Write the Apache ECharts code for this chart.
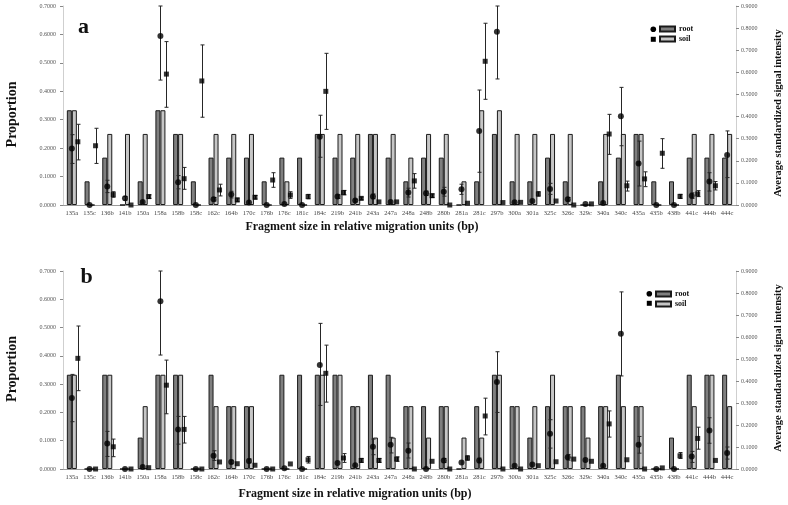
<!DOCTYPE html>
<html><head><meta charset="utf-8">
<script src="https://cdn.jsdelivr.net/npm/echarts@6/dist/echarts.min.js"></script>
<style>html,body{margin:0;padding:0;background:#fff}#c{width:788px;height:505px}</style>
</head><body><div id="c"></div>
<script>
const categories = ['135a','135c','136b','141b','150a','158a','158b','158c','162c','164b','170c','176b','176c','181c','184c','219b','241b','243a','247a','248a','248b','280b','281a','281c','297b','300a','301a','325c','326c','329c','340a','340c','435a','435b','438b','441c','444b','444c'];

// Panel a: proportions (left axis)
const aRootProp = [0.3333,0.0833,0.1667,0,0.0833,0.3333,0.25,0.0833,0.1667,0.1667,0.1667,0.0833,0.1667,0.1667,0.25,0.1667,0.1667,0.25,0.1667,0.0833,0.1667,0.1667,0,0.0833,0.25,0.0833,0.0833,0.1667,0.0833,0,0.0833,0.1667,0.25,0.0833,0.0833,0.1667,0.1667,0.1667];
const aSoilProp = [0.3333,0,0.25,0.25,0.25,0.3333,0.25,0,0.25,0.25,0.25,0,0.0833,0,0.25,0.25,0.25,0.25,0.25,0.1667,0.25,0.25,0.0833,0.3333,0.3333,0.25,0.25,0.25,0.25,0,0.25,0.25,0.25,0,0,0.25,0.25,0.25];
// Panel a: average standardized signal intensity (right axis)
const aRootInt = [0.255,0,0.084,0.030,0.014,0.764,0.103,0,0.026,0.047,0.011,0,0.005,0,0.309,0.038,0.020,0.039,0.014,0.056,0.053,0.060,0.071,0.335,0.784,0.012,0.018,0.072,0.026,0.005,0.009,0.401,0.188,0,0,0.042,0.106,0.226];
const aRootLo  = [0.188,null,0.056,0.022,null,0.565,0.073,null,0.018,0.032,null,null,null,null,0.216,0.030,0.014,0.028,null,0.036,0.043,0.040,0.048,0.148,0.570,null,null,0.048,0.018,null,null,0.268,0.086,null,null,0.030,0.063,0.124];
const aRootHi  = [0.318,null,0.112,0.038,null,0.900,0.133,null,0.034,0.062,null,null,null,null,0.406,0.046,0.026,0.050,null,0.076,0.063,0.080,0.094,0.520,0.900,null,null,0.098,0.034,null,null,0.532,0.289,null,null,0.055,0.146,0.335];
const aSoilInt = [0.286,0.268,0.047,0,0.038,0.592,0.119,0.561,0.068,0.023,0.035,0.113,0.045,0.038,0.514,0.056,0.030,0.014,0.014,0.109,0.042,0,0.008,0.650,0.011,0.012,0.050,0.018,0,0.005,0.321,0.087,0.118,0.234,0.039,0.050,0.087,null];
const aSoilLo  = [0.204,0.188,0.035,null,0.030,0.442,0.071,0.397,0.041,0.015,0.027,0.080,0.030,0.028,0.342,0.046,0.024,null,null,0.076,0.034,null,null,0.478,null,null,0.040,null,null,null,0.229,0.063,0.083,0.166,0.030,0.038,0.068,null];
const aSoilHi  = [0.365,0.347,0.060,null,0.046,0.739,0.170,0.724,0.094,0.031,0.043,0.146,0.060,0.048,0.686,0.066,0.036,null,null,0.142,0.050,null,null,0.822,null,null,0.060,null,null,null,0.410,0.108,0.150,0.300,0.048,0.065,0.106,null];

// Panel b: proportions (left axis)
const bRootProp = [0.3333,0,0.3333,0,0.1111,0.3333,0.3333,0,0.3333,0.2222,0.2222,0,0.3333,0.3333,0.3333,0.3333,0.2222,0.3333,0.3333,0.2222,0.2222,0.2222,0,0.2222,0.3333,0.2222,0.1111,0.2222,0.2222,0.2222,0.2222,0.3333,0.2222,0,0.1111,0.3333,0.3333,0.3333];
const bSoilProp = [0.3333,0,0.3333,0,0.2222,0.3333,0.3333,0,0.2222,0.2222,0.2222,0,0,0,0.3333,0.3333,0.2222,0.1111,0.1111,0.2222,0.1111,0.2222,0.1111,0.1111,0.3333,0.2222,0.2222,0.3333,0.2222,0.1111,0.2222,0.2222,0.2222,0,0,0.2222,0.3333,0.2222];
// Panel b: average standardized signal intensity (right axis)
const bRootInt = [0.323,0,0.116,0,0.009,0.763,0.180,0,0.060,0.032,0.036,0,0.003,0,0.473,0.027,0.017,0.101,0.110,0.083,0,0.039,0.030,0.039,0.396,0.015,0.020,0.160,0.053,0.041,0.015,0.615,0.110,0,0,0.057,0.175,0.073];
const bRootLo  = [0.215,null,0.057,null,null,0.518,0.113,null,0.039,0.024,0.028,null,null,null,0.289,null,null,0.065,0.073,0.050,null,0.030,null,0.028,0.257,null,null,0.095,0.040,null,null,0.423,0.072,null,null,0.030,0.117,0.045];
const bRootHi  = [0.430,null,0.171,null,null,0.900,0.239,null,0.083,0.040,0.046,null,null,null,0.662,null,null,0.136,0.144,0.118,null,0.048,null,0.050,0.533,null,null,0.224,0.066,null,null,0.805,0.148,null,null,0.080,0.233,0.100];
const bSoilInt = [0.503,0,0.101,0,0.006,0.381,0.180,0,0.032,0.024,0.017,0,0.023,0.042,0.435,0.050,0.039,0.039,0.045,0,0.035,0,0.050,0.241,0,0,0.015,0.033,0.045,0.035,0.205,0.042,0,0.005,0.060,0.139,0.039,null];
const bSoilLo  = [0.356,null,0.056,null,null,0.251,0.118,null,null,null,null,null,null,0.027,0.304,0.030,0.030,0.030,0.035,null,null,null,0.040,0.155,null,null,null,null,null,null,0.145,null,null,null,0.048,0.090,null,null];
const bSoilHi  = [0.650,null,0.136,null,null,0.495,0.239,null,null,null,null,null,null,0.057,0.563,0.070,0.048,0.048,0.055,null,null,null,0.060,0.322,null,null,null,null,null,null,0.264,null,null,null,0.075,0.190,null,null];

const propTicks = {min:0, max:0.7, interval:0.1};
const intTicks = {min:0, max:0.9, interval:0.1};

const SERIF = '"Liberation Serif", "Times New Roman", serif';
const DARK = '#7f7f7f', LIGHT = '#c6c6c6';
const ROOT_DX = 0, SOIL_DX = 6;

function errData(lo, hi){
  const out = [];
  lo.forEach((l,i)=>{ if(l!=null && hi[i]!=null) out.push([i,l,hi[i]]); });
  return out;
}
function errSeries(xi, yi, lo, hi, dx){
  return {
    type:'custom', xAxisIndex:xi, yAxisIndex:yi, z:4, silent:true,
    encode:{x:0, y:[1,2]},
    data: errData(lo,hi),
    renderItem:function(params, api){
      const p0 = api.coord([api.value(0), api.value(1)]);
      const p1 = api.coord([api.value(0), api.value(2)]);
      const cx = Math.round(p0[0] + dx) + 0.5;
      const cap = 2;
      const st = {stroke:'#262626', lineWidth:1};
      return {type:'group', children:[
        {type:'line', shape:{x1:cx,y1:p0[1],x2:cx,y2:p1[1]}, style:st},
        {type:'line', shape:{x1:cx-cap,y1:p1[1],x2:cx+cap,y2:p1[1]}, style:st},
        {type:'line', shape:{x1:cx-cap,y1:p0[1],x2:cx+cap,y2:p0[1]}, style:st}
      ]};
    }
  };
}
function barSeries(name, xi, yi, data, color){
  return {name:name, type:'bar', xAxisIndex:xi, yAxisIndex:yi, data:data, barWidth:5, barGap:'0%',
    itemStyle:{color:color, borderColor:'#1a1a1a', borderWidth:1}, z:2, silent:true};
}
function ptSeries(name, xi, yi, data, symbol, size, dx){
  return {name:name, type:'scatter', xAxisIndex:xi, yAxisIndex:yi, data:data, symbol:symbol, symbolSize:size,
    symbolOffset:[dx,0], itemStyle:{color:'#000'}, z:5, silent:true};
}
function xAxis(gi){
  return {type:'category', gridIndex:gi, data:categories,
    axisLine:{show:true, lineStyle:{color:'#9a9a9a', width:1}},
    axisTick:{show:false},
    axisLabel:{interval:0, fontFamily:SERIF, fontSize:6.5, color:'#444', margin:5},
    splitLine:{show:false}};
}
function yAxis(gi, pos, t, margin){
  return {type:'value', gridIndex:gi, position:pos, min:t.min, max:t.max, interval:t.interval,
    axisLine:{show:true, lineStyle:{color:'#cfcfcf'}},
    axisTick:{show:true, length:3, lineStyle:{color:'#888'}},
    axisLabel:{fontFamily:SERIF, fontSize:6, color:'#555', margin:margin, formatter:v=>v.toFixed(4)},
    splitLine:{show:false}};
}
function legend(left, top){
  return {data:['root','soil'], orient:'vertical', left:left, top:top, itemWidth:15, itemHeight:5, itemGap:0,
    icon:'rect', padding:0, selectedMode:false,
    textStyle:{fontFamily:SERIF, fontWeight:'bold', fontSize:8, lineHeight:10, color:'#111', padding:[0,0,0,-1]}};
}
function txt(x, y, s, size, rot, weight){
  return {type:'text', x:x, y:y, rotation:rot||0, silent:true,
    style:{text:s, fontFamily:SERIF, fontWeight:weight||'bold', fontSize:size, fill:'#111', align:'center', verticalAlign:'middle'}};
}

const chart = echarts.init(document.getElementById('c'), null, {renderer:'canvas'});
chart.setOption({
  animation:false,
  backgroundColor:'#fff',
  grid:[
    {left:63, right:52, top:6, height:199},
    {left:63, right:52, top:271, height:198}
  ],
  xAxis:[xAxis(0), xAxis(1)],
  yAxis:[yAxis(0,'left',propTicks,7), yAxis(0,'right',intTicks,5), yAxis(1,'left',propTicks,7), yAxis(1,'right',intTicks,5)],
  legend:[legend(659,24), legend(655,289)],
  series:[
    barSeries('root',0,0,aRootProp,DARK),
    barSeries('soil',0,0,aSoilProp,LIGHT),
    errSeries(0,1,aRootLo,aRootHi,ROOT_DX),
    errSeries(0,1,aSoilLo,aSoilHi,SOIL_DX),
    ptSeries('root intensity',0,1,aRootInt,'circle',6,ROOT_DX),
    ptSeries('soil intensity',0,1,aSoilInt,'rect',5,SOIL_DX),
    barSeries('root',1,2,bRootProp,DARK),
    barSeries('soil',1,2,bSoilProp,LIGHT),
    errSeries(1,3,bRootLo,bRootHi,ROOT_DX),
    errSeries(1,3,bSoilLo,bSoilHi,SOIL_DX),
    ptSeries('root intensity',1,3,bRootInt,'circle',6,ROOT_DX),
    ptSeries('soil intensity',1,3,bSoilInt,'rect',5,SOIL_DX)
  ],
  graphic:[
    txt(83.5, 27.5, 'a', 22),
    txt(86.5, 277, 'b', 22),
    txt(362, 227, 'Fragment size in relative migration units (bp)', 12),
    txt(355, 494, 'Fragment size in relative migration units (bp)', 12),
    txt(12, 114.5, 'Proportion', 14, Math.PI/2),
    txt(12, 369, 'Proportion', 14, Math.PI/2),
    txt(778, 113, 'Average standardized signal intensity', 10.5, Math.PI/2),
    txt(778, 368, 'Average standardized signal intensity', 10.5, Math.PI/2),
    {type:'circle', shape:{cx:653.3, cy:29.3, r:2.8}, style:{fill:'#000'}, silent:true},
    {type:'rect', shape:{x:650.8, y:36.8, width:5, height:5}, style:{fill:'#000'}, silent:true},
    {type:'circle', shape:{cx:649.3, cy:293.8, r:2.8}, style:{fill:'#000'}, silent:true},
    {type:'rect', shape:{x:646.8, y:300.8, width:5, height:5}, style:{fill:'#000'}, silent:true}
  ]
});
</script></body></html>
